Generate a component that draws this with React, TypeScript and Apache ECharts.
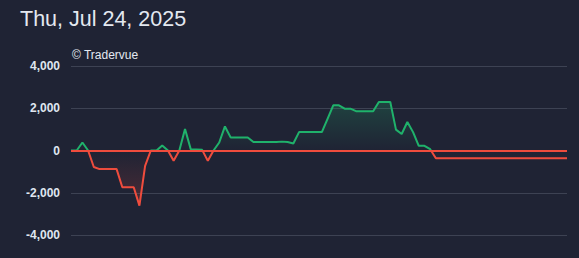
import React, { useEffect, useRef } from "react";
import * as echarts from "echarts";

const title = "Thu, Jul 24, 2025";
const watermark = "© Tradervue";
const yTicks = [-4000, -2000, 0, 2000, 4000];
// cumulative P&L at each step of the day
const pnl = [
  0, 0, 380, 0, -780, -880, -880, -880, -880, -1740,
  -1740, -1740, -2610, -730, 0, 0, 240, 0, -490, 0,
  1020, 65, 50, 30, -490, 0, 380, 1140, 620, 620,
  620, 620, 400, 400, 400, 400, 400, 420, 400, 330,
  870, 870, 870, 870, 870, 1500, 2140, 2140, 1980, 1980,
  1860, 1860, 1860, 1860, 2300, 2300, 2300, 990, 780, 1350,
  870, 220, 220, 60, -370, -370, -370, -370, -370, -370,
  -370, -370, -370, -370, -370, -370, -370, -370, -370, -370,
  -370, -370, -370, -370, -370, -370, -370, -370,
];
const steps = pnl.map((_, i) => String(i));

const GREEN = "#1fb26b";
const RED = "#ef4c3d";

export default function App() {
  const ref = useRef<HTMLDivElement>(null);
  useEffect(() => {
    const chart = echarts.init(ref.current!, null, { renderer: "svg" });
    const maxV = Math.max(...pnl);
    const minV = Math.min(...pnl);
    const zf = maxV / (maxV - minV);
    chart.setOption({
      animation: false,
      backgroundColor: "#1f2334",
      title: [
        {
          text: title,
          left: 15,
          top: 3,
          textStyle: { color: "#e3e8f0", fontSize: 21.5, fontWeight: "normal", fontFamily: "Liberation Sans" },
        },
        {
          text: watermark,
          left: 67,
          top: 44,
          textStyle: { color: "#e3e8f0", fontSize: 12, fontWeight: "normal", fontFamily: "Liberation Sans" },
        },
      ],
      grid: { left: 71, right: 12, top: 66, bottom: 23 },
      xAxis: {
        type: "category",
        data: steps,
        boundaryGap: false,
        show: false,
      },
      yAxis: {
        type: "value",
        min: yTicks[0],
        max: yTicks[yTicks.length - 1],
        interval: 2000,
        axisLine: { show: false },
        axisTick: { show: false },
        splitLine: { lineStyle: { color: "#3d4253", width: 1 } },
        axisLabel: {
          color: "#dfe6f0",
          fontSize: 12,
          fontWeight: "bold",
          fontFamily: "Liberation Sans",
          margin: 11,
          formatter: (v: number) => v.toLocaleString("en-US"),
        },
      },
      visualMap: {
        show: false,
        seriesIndex: 0,
        dimension: 1,
        pieces: [
          { gte: -100000, lt: 0, color: RED },
          { gte: 0, lte: 100000, color: GREEN },
        ],
      },
      series: [
        {
          type: "line",
          data: pnl,
          symbol: "none",
          lineStyle: { width: 2 },
          z: 2,
          areaStyle: {
            origin: 0,
            color: new echarts.graphic.LinearGradient(0, 0, 0, 1, [
              { offset: 0, color: "rgba(31,178,107,0.32)" },
              { offset: zf, color: "rgba(31,178,107,0)" },
              { offset: zf, color: "rgba(239,76,61,0)" },
              { offset: 1, color: "rgba(239,76,61,0.3)" },
            ]),
          },
        },
        {
          type: "line",
          data: [],
          z: 3,
          symbol: "none",
          markLine: {
            silent: true,
            symbol: "none",
            label: { show: false },
            lineStyle: { color: RED, width: 2, type: "solid" },
            data: [{ yAxis: 0 }],
          },
        },
      ],
    });
    return () => chart.dispose();
  }, []);
  return <div ref={ref} style={{ width: 579, height: 258, position: "absolute", left: 0, top: 0 }} />;
}
